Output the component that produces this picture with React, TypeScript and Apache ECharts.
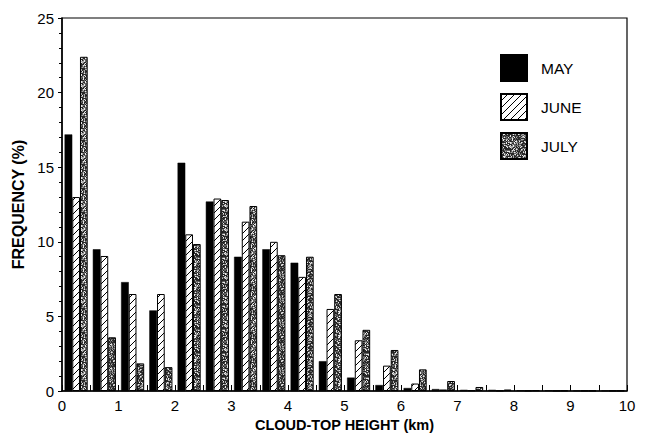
import React, { useEffect, useRef } from "react";
import * as echarts from "echarts";

const binCenters = [0.25, 0.75, 1.25, 1.75, 2.25, 2.75, 3.25, 3.75, 4.25, 4.75, 5.25, 5.75, 6.25, 6.75, 7.25, 7.75, 8.25, 8.75, 9.25, 9.75];
const mayValues = [17.2, 9.5, 7.3, 5.4, 15.3, 12.7, 9.0, 9.5, 8.6, 2.0, 0.9, 0.4, 0.2, 0.13, 0.08, 0.08, 0.05, 0.05, 0.03, 0.03];
const juneValues = [13.0, 9.05, 6.5, 6.5, 10.5, 12.9, 11.35, 10.0, 7.65, 5.5, 3.4, 1.7, 0.5, 0.1, 0.05, 0.03, 0.03, 0.02, 0.02, 0.02];
const julyValues = [22.4, 3.6, 1.85, 1.6, 9.85, 12.8, 12.4, 9.1, 9.0, 6.5, 4.1, 2.75, 1.45, 0.67, 0.27, 0.1, 0.05, 0.03, 0.02, 0.02];
const seriesNames = ["MAY", "JUNE", "JULY"];
const xTicks = [0, 1, 2, 3, 4, 5, 6, 7, 8, 9, 10];

function makeHatch(): HTMLCanvasElement {
  const c = document.createElement("canvas");
  c.width = 7;
  c.height = 7;
  const ctx = c.getContext("2d")!;
  ctx.fillStyle = "#fff";
  ctx.fillRect(0, 0, 7, 7);
  ctx.strokeStyle = "#000";
  ctx.lineWidth = 1;
  ctx.beginPath();
  ctx.moveTo(-1, 8);
  ctx.lineTo(8, -1);
  ctx.moveTo(-8, 8);
  ctx.lineTo(1, -1);
  ctx.moveTo(6, 8);
  ctx.lineTo(15, -1);
  ctx.stroke();
  return c;
}

function makeStipple(): HTMLCanvasElement {
  const c = document.createElement("canvas");
  const n = 24;
  c.width = n;
  c.height = n;
  const ctx = c.getContext("2d")!;
  let s = 12345;
  const next = () => {
    s = (s * 1103515245 + 12345) & 0x7fffffff;
    return s / 0x7fffffff;
  };
  for (let y = 0; y < n; y++) {
    for (let x = 0; x < n; x++) {
      const r = next();
      const g = r < 0.45 ? 40 : r < 0.7 ? 100 : r < 0.85 ? 170 : 235;
      ctx.fillStyle = `rgb(${g},${g},${g})`;
      ctx.fillRect(x, y, 1, 1);
    }
  }
  return c;
}

export default function App() {
  const ref = useRef<HTMLDivElement>(null);
  useEffect(() => {
    if (!ref.current) return;
    const chart = echarts.init(ref.current, undefined, { renderer: "svg" });
    const font = "Liberation Sans, Arial, Helvetica, sans-serif";
    const hatch = { image: makeHatch(), repeat: "repeat" } as any;
    const stipple = { image: makeStipple(), repeat: "repeat" } as any;
    const fills = ["#000", hatch, stipple];
    const vals = [mayValues, juneValues, julyValues];
    chart.setOption({
      animation: false,
      backgroundColor: "#fff",
      grid: {
        left: 62,
        right: 21,
        top: 18,
        bottom: 42,
        containLabel: false,
        outerBoundsMode: "none",
        show: true,
        borderColor: "#000",
        borderWidth: 1.2,
      },
      legend: {
        orient: "vertical",
        left: 500,
        top: 54,
        itemWidth: 26,
        itemHeight: 26,
        itemGap: 11,
        padding: 0,
        icon: "rect",
        data: seriesNames,
        textStyle: { fontFamily: font, fontSize: 15.5, color: "#000", padding: [0, 0, 0, 9] },
      },
      xAxis: {
        type: "value",
        min: 0,
        max: 10,
        interval: 1,
        name: "CLOUD-TOP HEIGHT (km)",
        nameLocation: "middle",
        nameGap: 25,
        nameTextStyle: { fontFamily: font, fontSize: 14.5, fontWeight: "bold", color: "#000" },
        axisLine: { show: true, lineStyle: { color: "#000", width: 1.5 } },
        axisTick: { show: true, inside: true, length: 6, lineStyle: { color: "#000" } },
        minorTick: { show: true, splitNumber: 2, length: 6, lineStyle: { color: "#000" } },
        splitLine: { show: false },
        axisLabel: {
          fontFamily: font,
          fontSize: 15,
          color: "#000",
          margin: 7,
          formatter: (v: number) => (xTicks.includes(v) ? String(v) : ""),
        },
      },
      yAxis: {
        type: "value",
        min: 0,
        max: 25,
        interval: 5,
        name: "FREQUENCY (%)",
        nameLocation: "middle",
        nameGap: 34,
        nameTextStyle: { fontFamily: font, fontSize: 16, fontWeight: "bold", color: "#000" },
        axisLine: { show: true, lineStyle: { color: "#000", width: 1.5 } },
        axisTick: { show: true, inside: false, length: 4, lineStyle: { color: "#000" } },
        minorTick: { show: true, splitNumber: 5, length: 3, lineStyle: { color: "#000" } },
        splitLine: { show: false },
        axisLabel: { fontFamily: font, fontSize: 15, color: "#000", margin: 8 },
      },
      series: seriesNames.map((name, i) => ({
        name,
        type: "bar",
        barWidth: 7.7,
        barGap: "0%",
        data: binCenters.map((x, j) => [x, vals[i][j]]),
        itemStyle: {
          color: fills[i],
          borderColor: "#000",
          borderWidth: i === 0 ? 0.5 : 1,
        },
      })),
    });
    return () => chart.dispose();
  }, []);
  return (
    <div
      ref={ref}
      style={{ position: "fixed", left: 0, top: 0, width: 648, height: 433, background: "#fff" }}
    />
  );
}
